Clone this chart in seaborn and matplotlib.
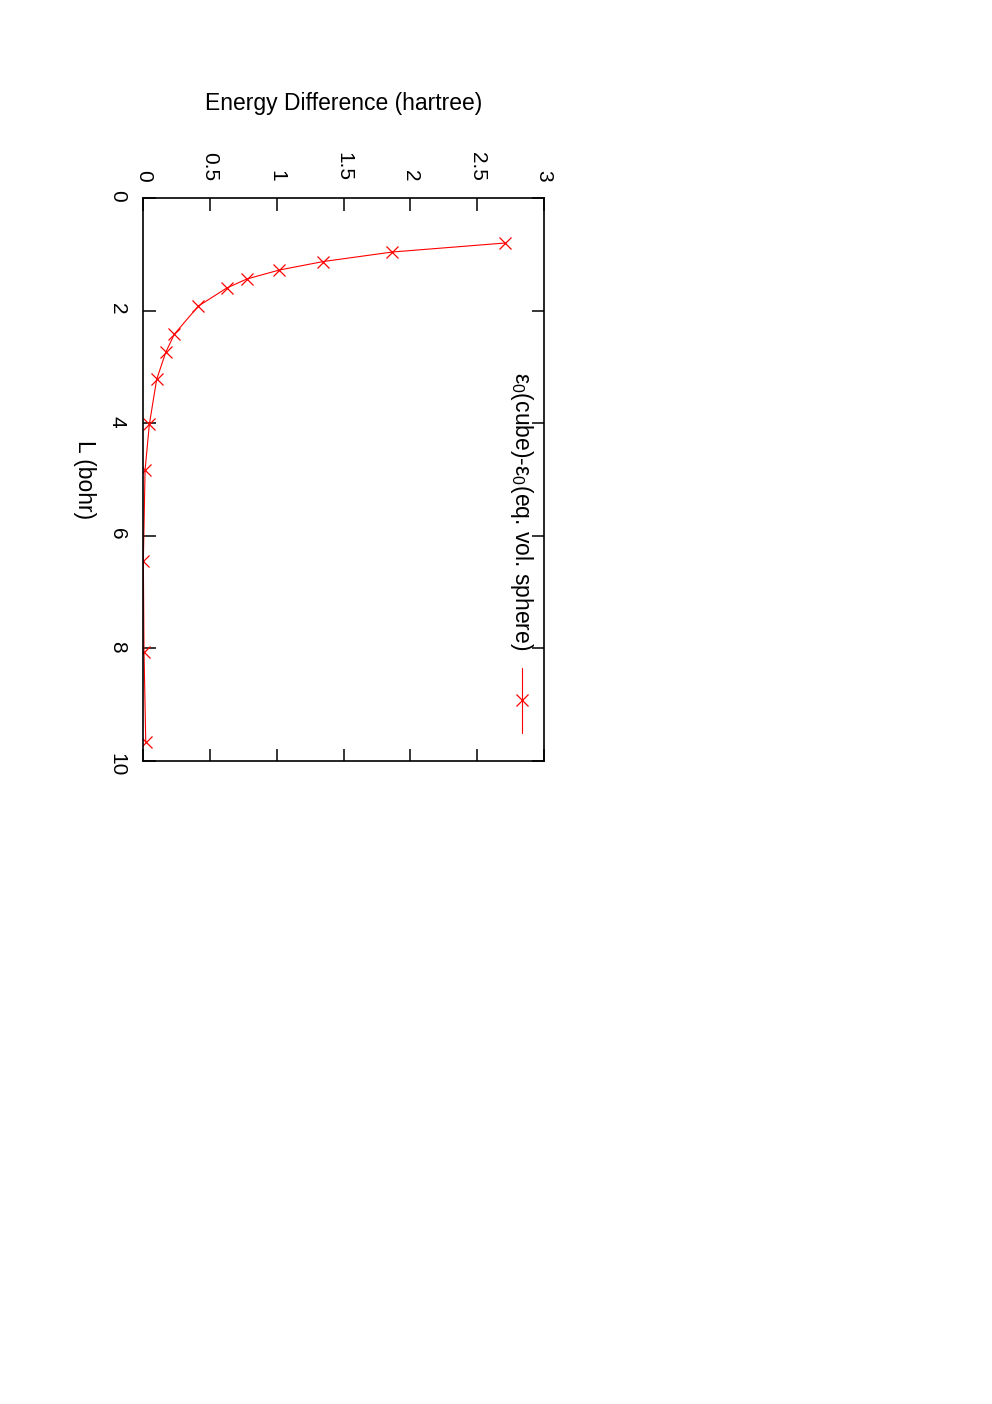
import numpy as np
import matplotlib
matplotlib.use("Agg")
import matplotlib.pyplot as plt
import seaborn as sns
import pandas as pd

# box length L (bohr) and energy difference (hartree)
box_length = [0.80, 0.96, 1.13, 1.28, 1.44, 1.60, 1.92, 2.42, 2.74, 3.22, 4.02, 4.83, 6.45, 8.06, 9.66]
energy_diff = [2.708, 1.864, 1.345, 1.018, 0.774, 0.624, 0.412, 0.232, 0.168, 0.100, 0.045, 0.013, 0.000, 0.005, 0.018]

energy_ticks = [0, 0.5, 1, 1.5, 2, 2.5, 3]
energy_ticklabels = ["0", "0.5", "1", "1.5", "2", "2.5", "3"]
length_ticks = [0, 2, 4, 6, 8, 10]

legend_label = r"ε$_0$(cube)-ε$_0$(eq. vol. sphere)"

sns.set_style("ticks")
plt.rcParams["font.family"] = ["Liberation Sans", "DejaVu Sans"]
plt.rcParams["mathtext.fontset"] = "custom"
plt.rcParams["mathtext.rm"] = "Liberation Sans"
plt.rcParams["mathtext.it"] = "Liberation Sans"
for key in ["text.color", "axes.labelcolor", "xtick.color", "ytick.color", "axes.edgecolor"]:
    plt.rcParams[key] = "black"

df = pd.DataFrame({"L": box_length, "dE": energy_diff})

fig = plt.figure(figsize=(9.92, 14.04), dpi=100)
# the whole gnuplot page is turned by 90 degrees: energy runs left to right, L runs downwards
ax = fig.add_axes([0.1445, 0.458, 0.4039, 0.401])

sns.lineplot(data=df, x="dE", y="L", sort=False, estimator=None, ax=ax,
             color="red", linewidth=0.8, marker="x", markersize=8,
             markeredgewidth=0.9, markeredgecolor="red")

ax.set_xlim(0, 3)
ax.set_ylim(10, 0)
ax.set_xticks(energy_ticks)
ax.set_xticklabels(energy_ticklabels)
ax.set_yticks(length_ticks)

ax.tick_params(axis="x", which="both", top=True, bottom=True, labeltop=True, labelbottom=False,
               direction="in", length=9, width=1.1, labelsize=15, labelrotation=-90, pad=12)
ax.tick_params(axis="y", which="both", left=True, right=True, labelleft=True, labelright=False,
               direction="in", length=9, width=1.1, labelsize=15, labelrotation=-90, pad=12)

for spine in ax.spines.values():
    spine.set_linewidth(1.2)
    spine.set_color("black")

ax.set_xlabel("Energy Difference (hartree)", fontsize=16.5, va="center")
ax.xaxis.set_label_position("top")
ax.xaxis.set_label_coords(0.5, 1.156)
ax.set_ylabel("L (bohr)", fontsize=16.5, rotation=-90, va="center", ha="center")
ax.yaxis.set_label_coords(-0.146, 0.499)

# rotated legend key
ax.text(0.945, 0.197, legend_label, transform=ax.transAxes, rotation=-90,
        ha="center", va="bottom", fontsize=16.5)
ax.plot([0.945, 0.945], [0.165, 0.050], transform=ax.transAxes, color="red", linewidth=0.8)
ax.plot([0.945], [0.108], transform=ax.transAxes, color="red", marker="x",
        markersize=8, markeredgewidth=0.9, linestyle="none")

if ax.get_legend() is not None:
    ax.get_legend().remove()

plt.savefig("out.png", dpi=100)
plt.close()
